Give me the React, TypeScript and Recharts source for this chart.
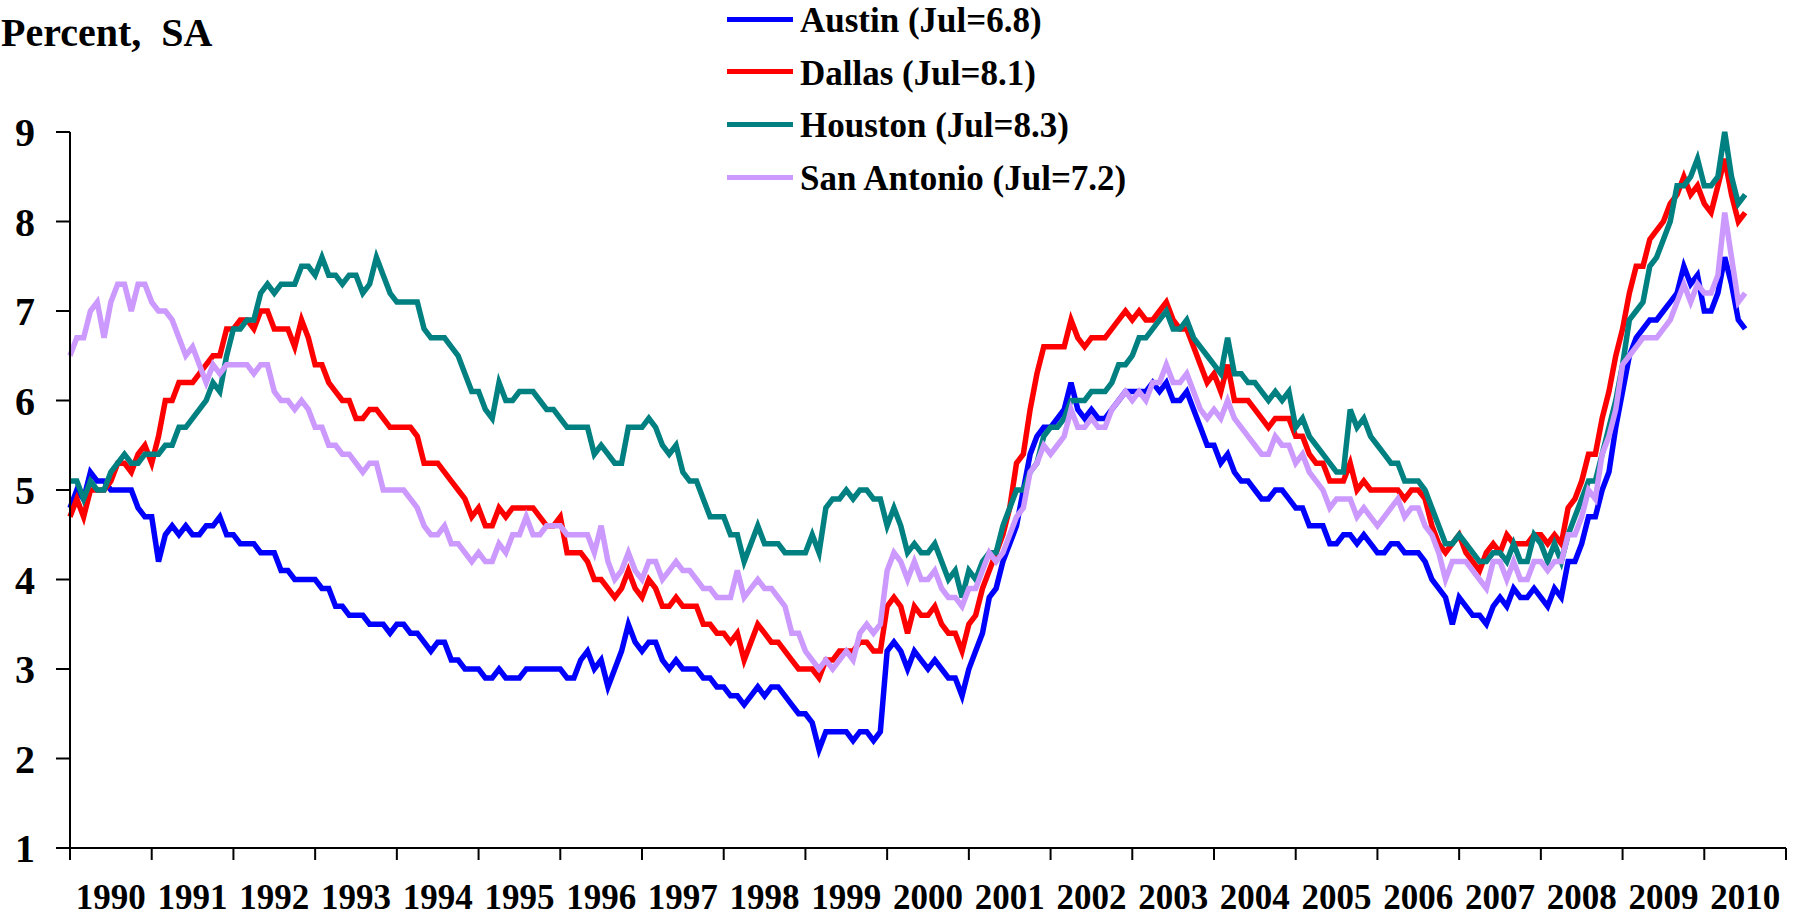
import { LineChart, Line, XAxis, YAxis, Legend } from "recharts";

// monthly unemployment rate, Jan 1990 .. Jul 2010 (one row per year)
const austin = [
  4.8, 5.0, 4.9, 5.2, 5.1, 5.1, 5.0, 5.0, 5.0, 5.0, 4.8, 4.7,
  4.7, 4.2, 4.5, 4.6, 4.5, 4.6, 4.5, 4.5, 4.6, 4.6, 4.7, 4.5,
  4.5, 4.4, 4.4, 4.4, 4.3, 4.3, 4.3, 4.1, 4.1, 4.0, 4.0, 4.0,
  4.0, 3.9, 3.9, 3.7, 3.7, 3.6, 3.6, 3.6, 3.5, 3.5, 3.5, 3.4,
  3.5, 3.5, 3.4, 3.4, 3.3, 3.2, 3.3, 3.3, 3.1, 3.1, 3.0, 3.0,
  3.0, 2.9, 2.9, 3.0, 2.9, 2.9, 2.9, 3.0, 3.0, 3.0, 3.0, 3.0,
  3.0, 2.9, 2.9, 3.1, 3.2, 3.0, 3.1, 2.8, 3.0, 3.2, 3.5, 3.3,
  3.2, 3.3, 3.3, 3.1, 3.0, 3.1, 3.0, 3.0, 3.0, 2.9, 2.9, 2.8,
  2.8, 2.7, 2.7, 2.6, 2.7, 2.8, 2.7, 2.8, 2.8, 2.7, 2.6, 2.5,
  2.5, 2.4, 2.1, 2.3, 2.3, 2.3, 2.3, 2.2, 2.3, 2.3, 2.2, 2.3,
  3.2, 3.3, 3.2, 3.0, 3.2, 3.1, 3.0, 3.1, 3.0, 2.9, 2.9, 2.7,
  3.0, 3.2, 3.4, 3.8, 3.9, 4.2, 4.4, 4.6, 5.0, 5.4, 5.6, 5.7,
  5.7, 5.8, 5.9, 6.2, 5.9, 5.8, 5.9, 5.8, 5.8, 5.9, 6.0, 6.1,
  6.1, 6.1, 6.1, 6.2, 6.1, 6.2, 6.0, 6.0, 6.1, 5.9, 5.7, 5.5,
  5.5, 5.3, 5.4, 5.2, 5.1, 5.1, 5.0, 4.9, 4.9, 5.0, 5.0, 4.9,
  4.8, 4.8, 4.6, 4.6, 4.6, 4.4, 4.4, 4.5, 4.5, 4.4, 4.5, 4.4,
  4.3, 4.3, 4.4, 4.4, 4.3, 4.3, 4.3, 4.2, 4.0, 3.9, 3.8, 3.5,
  3.8, 3.7, 3.6, 3.6, 3.5, 3.7, 3.8, 3.7, 3.9, 3.8, 3.8, 3.9,
  3.8, 3.7, 3.9, 3.8, 4.2, 4.2, 4.4, 4.7, 4.7, 5.0, 5.2, 5.7,
  6.1, 6.5, 6.7, 6.8, 6.9, 6.9, 7.0, 7.1, 7.2, 7.5, 7.3, 7.4,
  7.0, 7.0, 7.2, 7.6, 7.3, 6.9, 6.8,
];

const dallas = [
  4.7, 4.9, 4.7, 5.0, 5.0, 5.0, 5.1, 5.3, 5.3, 5.2, 5.4, 5.5,
  5.3, 5.6, 6.0, 6.0, 6.2, 6.2, 6.2, 6.3, 6.4, 6.5, 6.5, 6.8,
  6.8, 6.9, 6.9, 6.8, 7.0, 7.0, 6.8, 6.8, 6.8, 6.6, 6.9, 6.7,
  6.4, 6.4, 6.2, 6.1, 6.0, 6.0, 5.8, 5.8, 5.9, 5.9, 5.8, 5.7,
  5.7, 5.7, 5.7, 5.6, 5.3, 5.3, 5.3, 5.2, 5.1, 5.0, 4.9, 4.7,
  4.8, 4.6, 4.6, 4.8, 4.7, 4.8, 4.8, 4.8, 4.8, 4.7, 4.6, 4.6,
  4.7, 4.3, 4.3, 4.3, 4.2, 4.0, 4.0, 3.9, 3.8, 3.9, 4.1, 3.9,
  3.8, 4.0, 3.9, 3.7, 3.7, 3.8, 3.7, 3.7, 3.7, 3.5, 3.5, 3.4,
  3.4, 3.3, 3.4, 3.1, 3.3, 3.5, 3.4, 3.3, 3.3, 3.2, 3.1, 3.0,
  3.0, 3.0, 2.9, 3.1, 3.1, 3.2, 3.2, 3.2, 3.3, 3.3, 3.2, 3.2,
  3.7, 3.8, 3.7, 3.4, 3.7, 3.6, 3.6, 3.7, 3.5, 3.4, 3.4, 3.2,
  3.5, 3.6, 3.9, 4.1, 4.3, 4.5, 4.8, 5.3, 5.4, 5.9, 6.3, 6.6,
  6.6, 6.6, 6.6, 6.9, 6.7, 6.6, 6.7, 6.7, 6.7, 6.8, 6.9, 7.0,
  6.9, 7.0, 6.9, 6.9, 7.0, 7.1, 6.9, 6.8, 6.8, 6.6, 6.4, 6.2,
  6.3, 6.1, 6.4, 6.0, 6.0, 6.0, 5.9, 5.8, 5.7, 5.8, 5.8, 5.8,
  5.6, 5.6, 5.4, 5.3, 5.3, 5.1, 5.1, 5.1, 5.3, 5.0, 5.1, 5.0,
  5.0, 5.0, 5.0, 5.0, 4.9, 5.0, 5.0, 4.9, 4.6, 4.4, 4.3, 4.4,
  4.5, 4.3, 4.2, 4.1, 4.3, 4.4, 4.3, 4.5, 4.4, 4.4, 4.4, 4.5,
  4.5, 4.4, 4.5, 4.4, 4.8, 4.9, 5.1, 5.4, 5.4, 5.8, 6.1, 6.5,
  6.8, 7.2, 7.5, 7.5, 7.8, 7.9, 8.0, 8.2, 8.3, 8.5, 8.3, 8.4,
  8.2, 8.1, 8.4, 8.7, 8.3, 8.0, 8.1,
];

const houston = [
  5.1, 5.1, 4.9, 5.1, 5.0, 5.0, 5.2, 5.3, 5.4, 5.3, 5.3, 5.4,
  5.4, 5.4, 5.5, 5.5, 5.7, 5.7, 5.8, 5.9, 6.0, 6.2, 6.1, 6.5,
  6.8, 6.8, 6.9, 6.9, 7.2, 7.3, 7.2, 7.3, 7.3, 7.3, 7.5, 7.5,
  7.4, 7.6, 7.4, 7.4, 7.3, 7.4, 7.4, 7.2, 7.3, 7.6, 7.4, 7.2,
  7.1, 7.1, 7.1, 7.1, 6.8, 6.7, 6.7, 6.7, 6.6, 6.5, 6.3, 6.1,
  6.1, 5.9, 5.8, 6.2, 6.0, 6.0, 6.1, 6.1, 6.1, 6.0, 5.9, 5.9,
  5.8, 5.7, 5.7, 5.7, 5.7, 5.4, 5.5, 5.4, 5.3, 5.3, 5.7, 5.7,
  5.7, 5.8, 5.7, 5.5, 5.4, 5.5, 5.2, 5.1, 5.1, 4.9, 4.7, 4.7,
  4.7, 4.5, 4.5, 4.2, 4.4, 4.6, 4.4, 4.4, 4.4, 4.3, 4.3, 4.3,
  4.3, 4.5, 4.3, 4.8, 4.9, 4.9, 5.0, 4.9, 5.0, 5.0, 4.9, 4.9,
  4.6, 4.8, 4.6, 4.3, 4.4, 4.3, 4.3, 4.4, 4.2, 4.0, 4.1, 3.8,
  4.1, 4.0, 4.2, 4.3, 4.3, 4.6, 4.8, 5.0, 5.0, 5.2, 5.3, 5.6,
  5.7, 5.7, 5.8, 6.0, 6.0, 6.0, 6.1, 6.1, 6.1, 6.2, 6.4, 6.4,
  6.5, 6.7, 6.7, 6.8, 6.9, 7.0, 6.8, 6.8, 6.9, 6.7, 6.6, 6.5,
  6.4, 6.3, 6.7, 6.3, 6.3, 6.2, 6.2, 6.1, 6.0, 6.1, 6.0, 6.1,
  5.7, 5.8, 5.6, 5.5, 5.4, 5.3, 5.2, 5.2, 5.9, 5.7, 5.8, 5.6,
  5.5, 5.4, 5.3, 5.3, 5.1, 5.1, 5.1, 5.0, 4.8, 4.6, 4.4, 4.4,
  4.5, 4.4, 4.3, 4.2, 4.2, 4.3, 4.3, 4.2, 4.4, 4.2, 4.2, 4.5,
  4.4, 4.2, 4.4, 4.2, 4.5, 4.7, 4.9, 5.1, 5.1, 5.4, 5.7, 6.0,
  6.4, 6.9, 7.0, 7.1, 7.5, 7.6, 7.8, 8.0, 8.4, 8.4, 8.5, 8.7,
  8.4, 8.4, 8.5, 9.0, 8.5, 8.2, 8.3,
];

const sanAntonio = [
  6.5, 6.7, 6.7, 7.0, 7.1, 6.7, 7.1, 7.3, 7.3, 7.0, 7.3, 7.3,
  7.1, 7.0, 7.0, 6.9, 6.7, 6.5, 6.6, 6.4, 6.2, 6.4, 6.3, 6.4,
  6.4, 6.4, 6.4, 6.3, 6.4, 6.4, 6.1, 6.0, 6.0, 5.9, 6.0, 5.9,
  5.7, 5.7, 5.5, 5.5, 5.4, 5.4, 5.3, 5.2, 5.3, 5.3, 5.0, 5.0,
  5.0, 5.0, 4.9, 4.8, 4.6, 4.5, 4.5, 4.6, 4.4, 4.4, 4.3, 4.2,
  4.3, 4.2, 4.2, 4.4, 4.3, 4.5, 4.5, 4.7, 4.5, 4.5, 4.6, 4.6,
  4.6, 4.5, 4.5, 4.5, 4.5, 4.3, 4.6, 4.2, 4.0, 4.1, 4.3, 4.1,
  4.0, 4.2, 4.2, 4.0, 4.1, 4.2, 4.1, 4.1, 4.0, 3.9, 3.9, 3.8,
  3.8, 3.8, 4.1, 3.8, 3.9, 4.0, 3.9, 3.9, 3.8, 3.7, 3.4, 3.4,
  3.2, 3.1, 3.0, 3.1, 3.0, 3.1, 3.2, 3.1, 3.4, 3.5, 3.4, 3.5,
  4.1, 4.3, 4.2, 4.0, 4.2, 4.0, 4.0, 4.1, 3.9, 3.8, 3.8, 3.7,
  3.9, 3.9, 4.1, 4.3, 4.2, 4.3, 4.5, 4.7, 4.8, 5.2, 5.3, 5.5,
  5.4, 5.5, 5.6, 5.9, 5.7, 5.7, 5.8, 5.7, 5.7, 5.9, 6.0, 6.1,
  6.0, 6.1, 6.0, 6.2, 6.2, 6.4, 6.2, 6.2, 6.3, 6.1, 5.9, 5.8,
  5.9, 5.8, 6.0, 5.8, 5.7, 5.6, 5.5, 5.4, 5.4, 5.6, 5.5, 5.5,
  5.3, 5.4, 5.2, 5.1, 5.0, 4.8, 4.9, 4.9, 4.9, 4.7, 4.8, 4.7,
  4.6, 4.7, 4.8, 4.9, 4.7, 4.8, 4.8, 4.6, 4.5, 4.3, 4.0, 4.2,
  4.2, 4.2, 4.1, 4.0, 3.9, 4.2, 4.2, 4.0, 4.2, 4.0, 4.0, 4.2,
  4.2, 4.1, 4.2, 4.2, 4.5, 4.5, 4.7, 5.0, 4.9, 5.4, 5.6, 5.9,
  6.4, 6.5, 6.6, 6.7, 6.7, 6.7, 6.8, 6.9, 7.1, 7.3, 7.1, 7.3,
  7.2, 7.2, 7.4, 8.1, 7.6, 7.1, 7.2,
];

const years = [
  1990, 1991, 1992, 1993, 1994, 1995, 1996, 1997, 1998, 1999, 2000,
  2001, 2002, 2003, 2004, 2005, 2006, 2007, 2008, 2009, 2010,
];
const yTicks = [1, 2, 3, 4, 5, 6, 7, 8, 9];

const SERIES = [
  { key: "austin", label: "Austin (Jul=6.8)", color: "#0000FF" },
  { key: "dallas", label: "Dallas (Jul=8.1)", color: "#FF0000" },
  { key: "houston", label: "Houston (Jul=8.3)", color: "#008080" },
  { key: "sanAntonio", label: "San Antonio (Jul=7.2)", color: "#CC99FF" },
];

const data = austin.map((v, i) => ({
  month: i,
  austin: v,
  dallas: dallas[i],
  houston: houston[i],
  sanAntonio: sanAntonio[i],
}));

const W = 1801;
const H = 917;
const MARGIN = { top: 132, right: 15, bottom: 0, left: 0 };
const Y_AXIS_W = 70;
const X_AXIS_H = 69;
const FONT = "'Liberation Serif', 'Times New Roman', Times, serif";
const HALF_YEAR = (W - MARGIN.right - Y_AXIS_W) / years.length / 2;
const monthTicks = [...years.map((_, i) => i * 12), years.length * 12];
const LEGEND_ROW = 52.7;

function YearTick(props: any) {
  const { x, y, payload } = props;
  const idx = Math.round(payload.value / 12);
  if (idx >= years.length) return <g />;
  return (
    <text
      x={x + HALF_YEAR}
      y={y + 47}
      textAnchor="middle"
      fill="#000"
      fontSize={35}
      fontWeight="bold"
      fontFamily={FONT}
    >
      {years[idx]}
    </text>
  );
}

function LegendBox() {
  return (
    <div style={{ position: "relative", width: 460, height: 225 }}>
      {SERIES.map((s, i) => (
        <div
          key={s.key}
          style={{
            position: "absolute",
            left: 0,
            top: 1 + i * LEGEND_ROW,
            height: 40,
            display: "flex",
            alignItems: "center",
            whiteSpace: "nowrap",
          }}
        >
          <span
            style={{
              display: "inline-block",
              width: 66,
              height: 5,
              background: s.color,
              marginRight: 7,
              position: "relative",
              top: -2,
            }}
          />
          <span
            style={{
              fontFamily: FONT,
              fontWeight: "bold",
              fontSize: 35,
              lineHeight: "40px",
              color: "#000",
            }}
          >
            {s.label}
          </span>
        </div>
      ))}
    </div>
  );
}

export default function App() {
  return (
    <div
      style={{
        position: "absolute",
        left: 0,
        top: 0,
        width: W,
        height: H,
        background: "#fff",
        overflow: "hidden",
      }}
    >
      <div
        style={{
          position: "absolute",
          left: 1,
          top: 13,
          fontFamily: FONT,
          fontWeight: "bold",
          fontSize: 40,
          lineHeight: "40px",
          whiteSpace: "pre",
          color: "#000",
        }}
      >
        {"Percent,  SA"}
      </div>
      <LineChart width={W} height={H} data={data} margin={MARGIN}>
        <XAxis
          dataKey="month"
          type="number"
          domain={[0, years.length * 12]}
          ticks={monthTicks}
          interval={0}
          height={X_AXIS_H}
          tickSize={12}
          axisLine={{ stroke: "#000", strokeWidth: 2 }}
          tickLine={{ stroke: "#000", strokeWidth: 2 }}
          tick={<YearTick />}
        />
        <YAxis
          domain={[1, 9]}
          ticks={yTicks}
          interval={0}
          width={Y_AXIS_W}
          tickSize={14}
          tickMargin={21}
          axisLine={{ stroke: "#000", strokeWidth: 2 }}
          tickLine={{ stroke: "#000", strokeWidth: 2 }}
          tick={{ fill: "#000", fontSize: 40, fontWeight: "bold", fontFamily: FONT }}
        />
        <Legend
          layout="horizontal"
          verticalAlign="middle"
          align="center"
          content={() => <LegendBox />}
          wrapperStyle={{ left: 727, top: 0, width: 460, height: 225 }}
        />
        {SERIES.map((s) => (
          <Line
            key={s.key}
            type="linear"
            dataKey={s.key}
            name={s.label}
            stroke={s.color}
            strokeWidth={5.5}
            dot={false}
            activeDot={false}
            isAnimationActive={false}
          />
        ))}
      </LineChart>
    </div>
  );
}
